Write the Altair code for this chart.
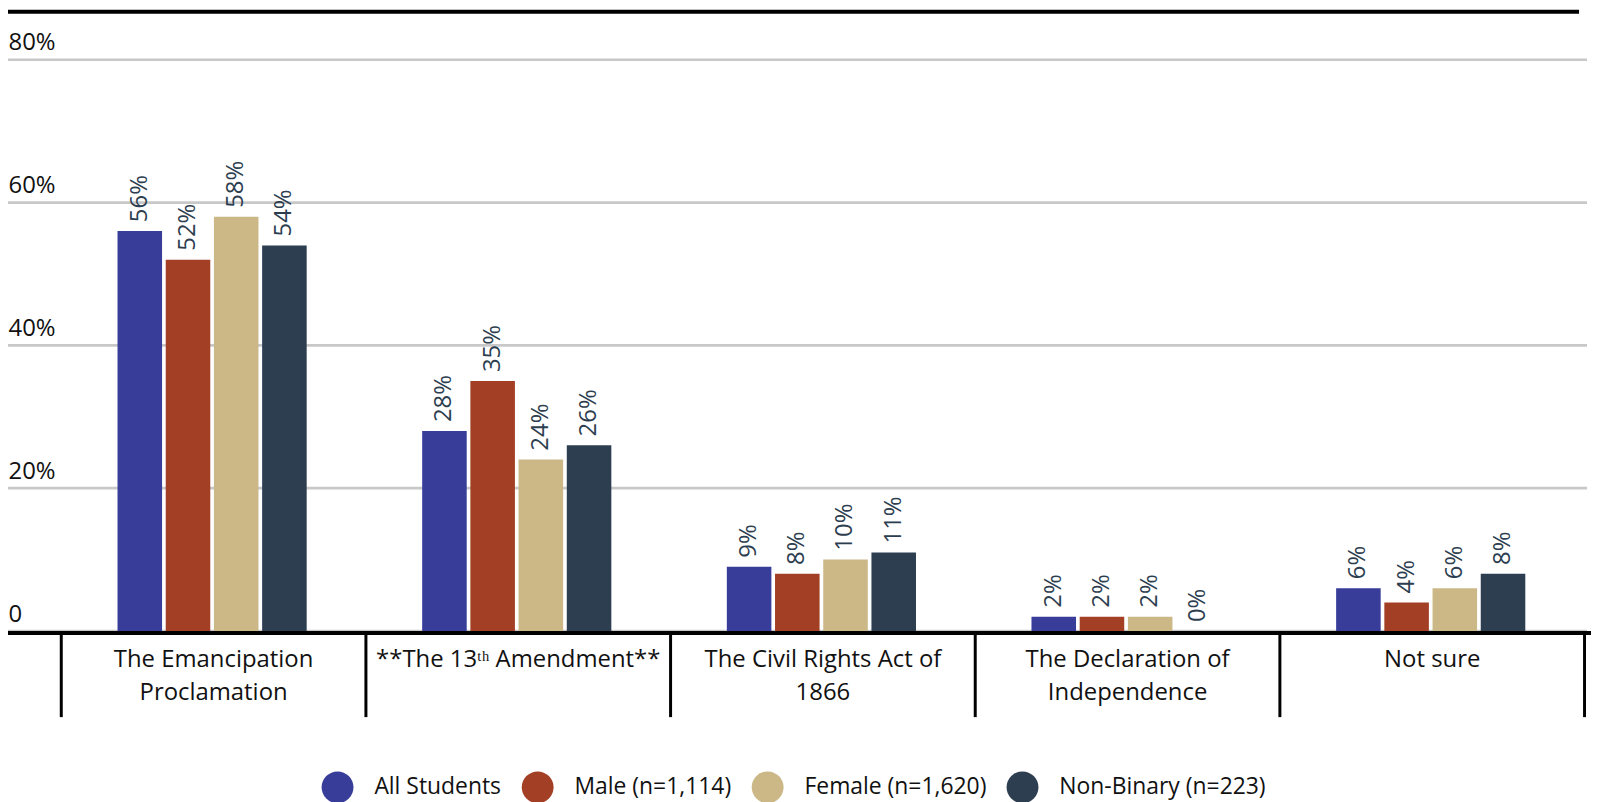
import json
import altair as alt
import pandas as pd

# ---- data -------------------------------------------------------------
categories = [
    "The Emancipation Proclamation",
    "**The 13ᵗʰ Amendment**",
    "The Civil Rights Act of 1866",
    "The Declaration of Independence",
    "Not sure",
]
label_lines = {
    "The Emancipation Proclamation": ["The Emancipation", "Proclamation"],
    "The Civil Rights Act of 1866": ["The Civil Rights Act of", "1866"],
    "The Declaration of Independence": ["The Declaration of", "Independence"],
}
groups = ["All Students", "Male (n=1,114)", "Female (n=1,620)", "Non-Binary (n=223)"]
all_students = [56, 28, 9, 2, 6]
male = [52, 35, 8, 2, 4]
female = [58, 24, 10, 2, 6]
non_binary = [54, 26, 11, 0, 8]
colors = ["#383d9a", "#a33f24", "#cbb886", "#2d3e50"]
y_ticks = [0, 20, 40, 60, 80]

series = [all_students, male, female, non_binary]
rows = []
for g, vals in zip(groups, series):
    for c, v in zip(categories, vals):
        rows.append({"category": c, "group": g, "value": v})
df = pd.DataFrame(rows)
grid_df = pd.DataFrame({"tick": y_ticks})

FONT = "Open Sans"

label_expr = "datum.label"
for k, lines in label_lines.items():
    label_expr = f"datum.label == {json.dumps(k)} ? {json.dumps(lines)} : ({label_expr})"

x_enc = alt.X(
    "category:N",
    sort=categories,
    scale=alt.Scale(range=[53, 1583], paddingInner=0, paddingOuter=0),
    axis=alt.Axis(
        title=None,
        labelAngle=0,
        labelFont=FONT,
        labelFontSize=24,
        labelColor="#111111",
        labelLineHeight=33,
        labelBaseline="top",
        labelPadding=-69,
        labelLimit=400,
        labelExpr=label_expr,
        tickBand="extent",
        tickSize=84,
        tickWidth=3,
        tickColor="black",
        domain=False,
        offset=2,
        grid=False,
    ),
)
xoff_enc = alt.XOffset(
    "group:N", sort=groups,
    scale=alt.Scale(range=[57, 247], paddingInner=0.076, paddingOuter=0),
)
y_scale = alt.Scale(domain=[0, 87], nice=False, zero=True)
y_enc = alt.Y(
    "value:Q",
    scale=y_scale,
    axis=alt.Axis(
        title=None,
        values=y_ticks,
        labelExpr="datum.value == 0 ? '0' : datum.value + '%'",
        labelAlign="left",
        labelBaseline="alphabetic",
        labelPadding=0,
        labelOffset=-10,
        labelFont=FONT,
        labelFontSize=24,
        labelColor="#111111",
        labelOverlap=False,
        ticks=False,
        domain=False,
        grid=False,
    ),
)

base = alt.Chart(df)

gridlines = alt.Chart(grid_df).mark_rule(color="#c8c8c8", strokeWidth=2.7).encode(
    y=alt.Y("tick:Q", scale=y_scale),
    x=alt.value(0),
    x2=alt.value(1586),
)

bars = base.mark_bar().encode(
    x=x_enc,
    xOffset=xoff_enc,
    y=y_enc,
    color=alt.Color(
        "group:N",
        sort=groups,
        scale=alt.Scale(domain=groups, range=colors),
        legend=alt.Legend(
            title=None,
            orient="none",
            legendX=315,
            legendY=765,
            direction="horizontal",
            symbolType="circle",
            symbolSize=1024,
            symbolStrokeWidth=0,
            labelFont=FONT,
            labelFontSize=23,
            labelColor="#111111",
            labelOffset=21,
            columnPadding=20,
            labelLimit=400,
            padding=0,
        ),
    ),
)

texts = base.transform_calculate(
    label="datum.value + '%'"
).mark_text(
    angle=270,
    align="left",
    baseline="middle",
    dx=9,
    font=FONT,
    fontSize=24,
    color="#2d3e50",
).encode(
    x=x_enc,
    xOffset=xoff_enc,
    y=y_enc,
    text=alt.Text("label:N"),
)

baseline = alt.Chart(pd.DataFrame({"zero": [0]})).mark_rule(
    color="black", strokeWidth=4, yOffset=2
).encode(
    y=alt.Y("zero:Q", scale=y_scale),
    x=alt.value(0),
    x2=alt.value(1590),
)

top_rule = alt.Chart(pd.DataFrame({"a": [0]})).mark_rule(
    color="black", strokeWidth=4
).encode(x=alt.value(0), x2=alt.value(1578), y=alt.value(2))

chart = (
    alt.layer(gridlines, bars, texts, baseline, top_rule)
    .properties(
        width=1592,
        height=624,
        autosize=alt.AutoSizeParams(type="none"),
        padding={"left": 0, "top": 0, "right": 0, "bottom": 170},
    )
    .configure_view(stroke=None)
)

chart.save("out.html", embed_options={"renderer": "svg", "actions": False})
